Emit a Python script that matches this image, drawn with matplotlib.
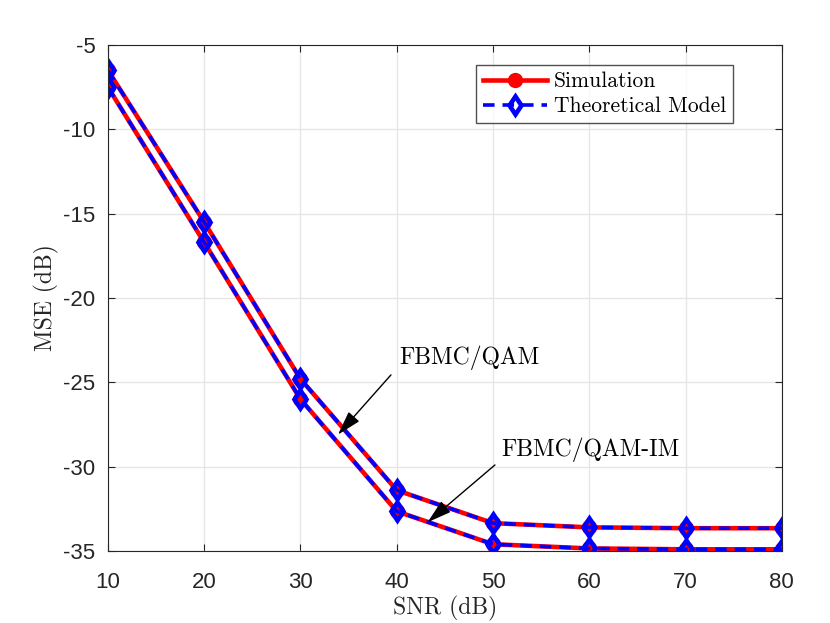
import numpy as np
import matplotlib

matplotlib.use("Agg")
import matplotlib.pyplot as plt

plt.rcParams["font.family"] = "Liberation Sans"

snr = [10, 20, 30, 40, 50, 60, 70, 80]
mse_qam_sim = [-6.5, -15.5, -24.8, -31.4, -33.35, -33.6, -33.65, -33.65]
mse_qam_theory = [-6.5, -15.5, -24.8, -31.4, -33.35, -33.6, -33.65, -33.65]
mse_im_sim = [-7.5, -16.7, -26.0, -32.65, -34.6, -34.85, -34.9, -34.9]
mse_im_theory = [-7.5, -16.7, -26.0, -32.65, -34.6, -34.85, -34.9, -34.9]
x_ticks = [10, 20, 30, 40, 50, 60, 70, 80]
y_ticks = [-35, -30, -25, -20, -15, -10, -5]

serif = "cmr10"


def main():
    fig = plt.figure(figsize=(8.3, 6.23), dpi=100)
    ax = fig.add_axes([0.130, 0.1156, 0.812, 0.8122])

    sim_style = dict(color="red", linewidth=3.3, marker="o", markersize=10)
    th_style = dict(color="blue", linewidth=2.6, linestyle=(0, (3.2, 2.2)),
                    marker="d", markersize=9.5, markerfacecolor="none",
                    markeredgewidth=3.3)

    ax.plot(snr, mse_qam_sim, label="Simulation", **sim_style)
    ax.plot(snr, mse_qam_theory, label="Theoretical Model", **th_style)
    ax.plot(snr, mse_im_sim, **sim_style)
    ax.plot(snr, mse_im_theory, **th_style)

    ax.set_xlim(10, 80)
    ax.set_ylim(-35, -5)
    ax.set_xticks(x_ticks)
    ax.set_yticks(y_ticks)
    ax.set_yticklabels([str(v) for v in y_ticks])
    ax.tick_params(labelsize=16, direction="in", length=5, color="#262626",
                   labelcolor="#262626", top=True, right=True)
    ax.tick_params(axis="x", pad=15)
    ax.tick_params(axis="y", pad=9)
    ax.grid(True, color="#e6e6e6", linewidth=1)
    ax.set_axisbelow(True)
    for sp in ax.spines.values():
        sp.set_color("#262626")

    ax.set_xlabel("SNR (dB)", fontsize=17, color="#262626", family=serif,
                  labelpad=2)
    ax.set_ylabel("MSE (dB)", fontsize=17, color="#262626", family=serif,
                  labelpad=3)

    arrow = dict(arrowstyle="-|>,head_length=0.75,head_width=0.22",
                 color="black", lw=1, mutation_scale=20, shrinkA=0, shrinkB=0)
    ax.text(40.3, -23.55, "FBMC/QAM", fontsize=17, va="center", ha="left",
            family=serif)
    ax.annotate("", xy=(33.9, -28.1), xytext=(39.4, -24.56),
                arrowprops=arrow)
    ax.text(50.9, -29.0, "FBMC/QAM-IM", fontsize=17, va="center", ha="left",
            family=serif)
    ax.annotate("", xy=(43.2, -33.3), xytext=(50.2, -29.9),
                arrowprops=arrow)

    leg = ax.legend(loc="upper right", bbox_to_anchor=(0.927, 0.96),
                    prop={"family": serif, "size": 15.5}, fancybox=False,
                    edgecolor="#262626", handlelength=3.0, borderpad=0.3,
                    labelspacing=0.25, handletextpad=0.3, borderaxespad=0.0)
    leg.get_frame().set_linewidth(1)

    fig.savefig("out.png", dpi=100)


if __name__ == "__main__":
    main()
